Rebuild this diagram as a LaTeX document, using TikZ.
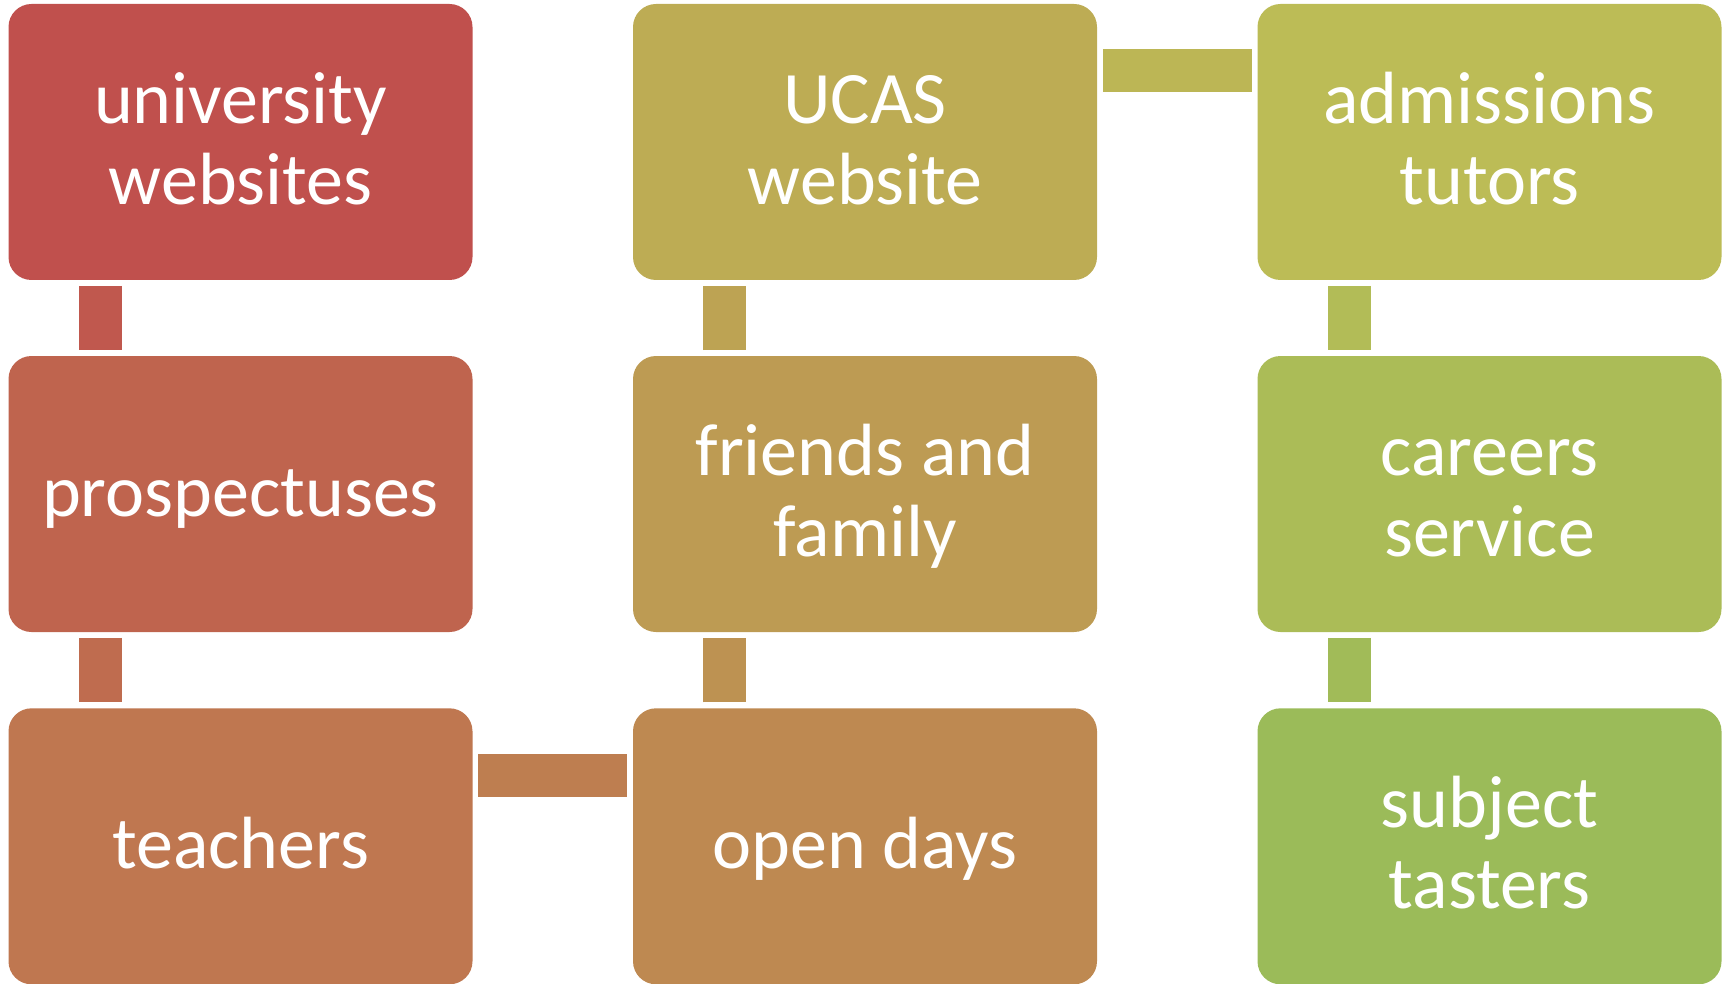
\documentclass[tikz,border=0pt]{standalone}
\usepackage{fontspec}
\setmainfont{Carlito}
\usetikzlibrary{calc}
\definecolor{cA}{HTML}{C0504D}
\definecolor{cB}{HTML}{BF644E}
\definecolor{cC}{HTML}{BF7750}
\definecolor{cD}{HTML}{BE8951}
\definecolor{cE}{HTML}{BD9B53}
\definecolor{cF}{HTML}{BDAC54}
\definecolor{cG}{HTML}{BCBC56}
\definecolor{cH}{HTML}{ABBC57}
\definecolor{cI}{HTML}{9BBB59}
\newcommand\mystrut{\rule[-16pt]{0pt}{76pt}}
\tikzset{
  box/.style={rectangle, rounded corners=23pt, minimum width=464pt, minimum height=276pt,
    inner sep=0pt, text=white, align=center, font=\fontsize{74}{81}\selectfont},
  link/.style={line width=43pt, shorten >=5.7pt, shorten <=5.7pt}
}
\begin{document}
\begin{tikzpicture}[x=1pt,y=-1pt]
\useasboundingbox (0,0) rectangle (1729,984);
\node[box, fill=cA] (uw) at (240.5,142) {\mystrut university\\\mystrut websites};
\node[box, fill=cB] (pr) at (240.5,494) {\mystrut prospectuses};
\node[box, fill=cC] (te) at (240.5,846.3) {\mystrut teachers};
\node[box, fill=cD] (od) at (865,846.3) {\mystrut open days};
\node[box, fill=cE] (ff) at (865,494) {\mystrut friends and\\\mystrut family};
\node[box, fill=cF] (uc) at (865,142) {\mystrut UCAS\\\mystrut website};
\node[box, fill=cG] (at) at (1489.5,142) {\mystrut admissions\\\mystrut tutors};
\node[box, fill=cH] (cs) at (1489.5,494) {\mystrut careers\\\mystrut service};
\node[box, fill=cI] (st) at (1489.5,846.3) {\mystrut subject\\\mystrut tasters};
% connectors
\draw[link, cA!60!cB] ($(uw.south west)+(92,0)$) -- ($(pr.north west)+(92,0)$);
\draw[link, cB!60!cC] ($(pr.south west)+(92,0)$) -- ($(te.north west)+(92,0)$);
\draw[link, cC!60!cD] ($(te.north east)+(0,67)$) -- ($(od.north west)+(0,67)$);
\draw[link, cD!50!cE] ($(od.north west)+(92,0)$) -- ($(ff.south west)+(92,0)$);
\draw[link, cE!50!cF] ($(ff.north west)+(92,0)$) -- ($(uc.south west)+(92,0)$);
\draw[link, cF!40!cG] ($(uc.north east)+(0,67)$) -- ($(at.north west)+(0,67)$);
\draw[link, cG!40!cH] ($(at.south west)+(92,0)$) -- ($(cs.north west)+(92,0)$);
\draw[link, cH!40!cI] ($(cs.south west)+(92,0)$) -- ($(st.north west)+(92,0)$);
\end{tikzpicture}
\end{document}
